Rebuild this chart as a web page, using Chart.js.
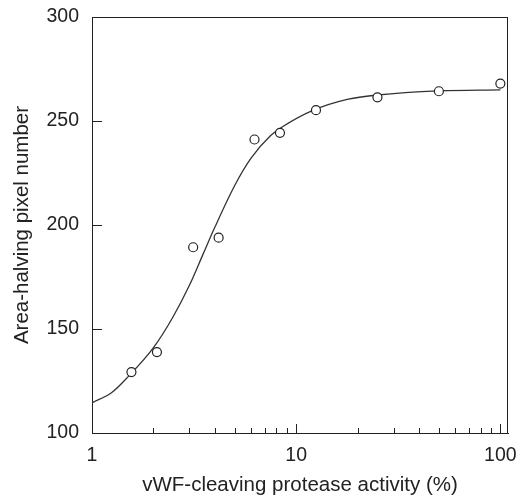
<!DOCTYPE html>
<html>
<head>
<meta charset="utf-8">
<script src="https://cdn.jsdelivr.net/npm/chart.js@4"></script>
<style>
  body { margin:0; background:#fff; }
</style>
</head>
<body>
<canvas id="c" width="518" height="503"></canvas>
<script>
// measured points (open circles)
const activity = [1.56, 2.08, 3.13, 4.17, 6.25, 8.33, 12.5, 25, 50, 100];
const pixels   = [129.3, 138.9, 189.3, 193.9, 241.1, 244.3, 255.2, 261.4, 264.3, 268.0];

// fitted curve
const curveX = [1, 1.25, 1.5, 2, 2.5, 3, 3.5, 4, 5, 6, 7.5, 8.5, 12, 18, 25, 50, 100];
const curveY = [114.5, 119.5, 127, 141, 156, 171, 186, 199, 219, 232, 243, 247, 255, 260.5, 262.5, 264.5, 265];

const xTicks = [1,2,3,4,5,6,7,8,9,10,20,30,40,50,60,70,80,90,100];
const xMajor = [1, 10, 100];
const yTicks = [100, 150, 200, 250, 300];

const ink = "#222";

// inward ticks + top/right frame
const frame = {
  id: "frame",
  afterDraw(chart){
    const {ctx, chartArea:a, scales} = chart;
    ctx.save();
    ctx.strokeStyle = ink;
    ctx.lineWidth = 1;
    ctx.beginPath();
    ctx.moveTo(a.left, a.top + 0.5); ctx.lineTo(a.right, a.top + 0.5);
    ctx.moveTo(a.right - 0.5, a.top); ctx.lineTo(a.right - 0.5, a.bottom);
    yTicks.forEach(v => {
      const y = Math.round(scales.y.getPixelForValue(v)) + 0.5;
      ctx.moveTo(a.left, y); ctx.lineTo(a.left + 10, y);
    });
    xTicks.forEach(v => {
      const x = Math.round(scales.x.getPixelForValue(v)) + 0.5;
      const len = xMajor.includes(v) ? 9 : 5;
      ctx.moveTo(x, a.bottom); ctx.lineTo(x, a.bottom - len);
    });
    ctx.stroke();
    ctx.restore();
  }
};

function noOverflow(s){
  s.paddingTop = 0; s.paddingBottom = 0; s.paddingLeft = 0; s.paddingRight = 0;
}

const curve = curveX.map((x,i) => ({x, y: curveY[i]}));
const pts = activity.map((x,i) => ({x, y: pixels[i]}));

new Chart(document.getElementById("c"), {
  type: "scatter",
  data: {
    datasets: [
      {
        data: curve, showLine: true, pointRadius: 0,
        borderColor: "#333", borderWidth: 1.3,
        cubicInterpolationMode: "monotone", order: 2
      },
      {
        data: pts, pointRadius: 4.5, pointBorderWidth: 1.2,
        pointBackgroundColor: "#fff", pointBorderColor: ink, order: 1
      }
    ]
  },
  options: {
    responsive: false,
    animation: false,
    layout: { padding: { top: 17, right: 10, left: 0, bottom: 0 } },
    plugins: { legend: { display: false }, tooltip: { enabled: false } },
    scales: {
      x: {
        type: "logarithmic", min: 1, max: 109,
        afterBuildTicks: s => { s.ticks = xTicks.map(v => ({value: v})); },
        afterFit: s => { s.height = 70; noOverflow(s); },
        grid: { display: false, drawTicks: false },
        border: { display: true, color: ink, width: 1 },
        ticks: {
          autoSkip: false, maxRotation: 0, padding: 11, color: ink,
          font: { family: "Liberation Sans", size: 19.5 },
          callback: v => xMajor.includes(v) ? String(v) : ""
        },
        title: {
          display: true, text: "vWF-cleaving protease activity (%)", color: ink,
          font: { family: "Liberation Sans", size: 20.5 }, padding: { top: 5, bottom: 5 }
        }
      },
      y: {
        min: 100, max: 300,
        afterBuildTicks: s => { s.ticks = yTicks.map(v => ({value: v})); },
        afterFit: s => { s.width = 92; noOverflow(s); },
        grid: { display: false, drawTicks: false },
        border: { display: true, color: ink, width: 1 },
        ticks: {
          padding: 13, color: ink,
          font: { family: "Liberation Sans", size: 19.5 }
        },
        title: {
          display: true, text: "Area-halving pixel number", color: ink,
          font: { family: "Liberation Sans", size: 20.5 }, padding: { top: 10, bottom: 0 }
        }
      }
    }
  },
  plugins: [frame]
});
</script>
</body>
</html>
